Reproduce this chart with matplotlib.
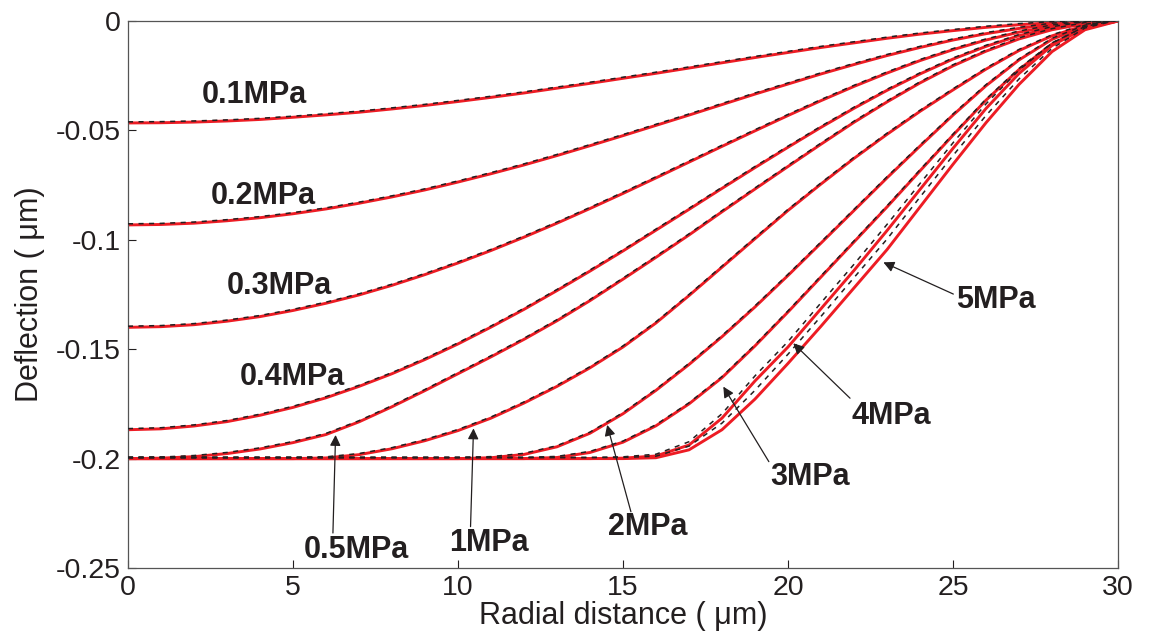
import matplotlib
matplotlib.use("Agg")
import matplotlib.pyplot as plt
import matplotlib.patheffects as pe
import numpy as np

plt.rcParams['font.family'] = ['Liberation Sans', 'DejaVu Sans']
plt.rcParams['axes.unicode_minus'] = False

# --- data: depth below zero (um) at radius r (um) ---
r = [0, 1, 2, 3, 4, 5, 6, 7, 8, 9, 10, 11, 12, 13, 14, 15,
     16, 17, 18, 19, 20, 21, 22, 23, 24, 25, 26, 27, 28, 29, 30]

d_01 = [.0466, .0465, .0462, .0457, .0450, .0440, .0429, .0417, .0402, .0386, .0368, .0349, .0329, .0307, .0285, .0262,
        .0239, .0215, .0191, .0167, .0144, .0121, .0100, .0079, .0060, .0044, .0029, .0017, .0008, .0002, 0]
d_02 = [.0932, .0930, .0924, .0913, .0899, .0881, .0859, .0833, .0804, .0772, .0736, .0698, .0658, .0615, .0570, .0524,
        .0477, .0430, .0382, .0334, .0288, .0242, .0199, .0158, .0121, .0087, .0058, .0034, .0015, .0004, 0]
d_03 = [.1400, .1397, .1388, .1372, .1351, .1323, .1290, .1252, .1208, .1159, .1106, .1049, .0988, .0924, .0857, .0788,
        .0717, .0645, .0573, .0502, .0432, .0364, .0299, .0238, .0181, .0131, .0087, .0051, .0023, .0006, 0]
d_04 = [.1868, .1864, .1851, .1831, .1802, .1766, .1722, .1670, .1612, .1547, .1476, .1399, .1318, .1232, .1143, .1051,
        .0956, .0861, .0765, .0670, .0577, .0486, .0399, .0317, .0242, .0174, .0116, .0067, .0031, .0008, 0]
d_05 = [.2000, .1998, .1991, .1977, .1956, .1927, .1890, .1832, .1763, .1689, .1612, .1535, .1455, .1370, .1278, .1180,
        .1080, .0978, .0872, .0768, .0665, .0563, .0463, .0370, .0283, .0205, .0138, .0082, .0040, .0012, 0]
d_1 = [.2000, .2000, .2000, .2000, .2000, .2000, .1997, .1982, .1955, .1918, .1872, .1815, .1746, .1670, .1585, .1490,
       .1380, .1255, .1125, .0995, .0866, .0745, .0628, .0518, .0413, .0315, .0220, .0135, .0068, .0020, 0]
d_2 = [.2000, .2000, .2000, .2000, .2000, .2000, .2000, .2000, .2000, .2000, .2000, .1996, .1981, .1946, .1884, .1795,
       .1688, .1570, .1443, .1307, .1163, .1015, .0866, .0717, .0572, .0430, .0296, .0178, .0084, .0024, 0]
d_3 = [.2000, .2000, .2000, .2000, .2000, .2000, .2000, .2000, .2000, .2000, .2000, .2000, .2000, .1995, .1972, .1925,
       .1850, .1750, .1630, .1485, .1330, .1170, .1010, .0850, .0685, .0522, .0362, .0222, .0105, .0030, 0]
d_4 = [.2000, .2000, .2000, .2000, .2000, .2000, .2000, .2000, .2000, .2000, .2000, .2000, .2000, .2000, .2000, .1998,
       .1988, .1938, .1815, .1645, .1490, .1315, .1140, .0958, .0770, .0582, .0400, .0240, .0112, .0032, 0]
d_5 = [.2000, .2000, .2000, .2000, .2000, .2000, .2000, .2000, .2000, .2000, .2000, .2000, .2000, .2000, .2000, .2000,
       .1996, .1960, .1868, .1728, .1565, .1395, .1220, .1045, .0850, .0655, .0465, .0290, .0140, .0040, 0]
# dashed (second model) where it visibly separates from the red curve
d_4_dash = [.2000, .2000, .2000, .2000, .2000, .2000, .2000, .2000, .2000, .2000, .2000, .2000, .2000, .2000, .2000, .1997,
            .1985, .1928, .1800, .1627, .1470, .1293, .1117, .0935, .0748, .0562, .0384, .0229, .0106, .0030, 0]
d_5_dash = [.2000, .2000, .2000, .2000, .2000, .2000, .2000, .2000, .2000, .2000, .2000, .2000, .2000, .2000, .2000, .2000,
            .1994, .1948, .1843, .1693, .1528, .1355, .1178, .1002, .0810, .0620, .0437, .0270, .0130, .0037, 0]

red_curves = [d_01, d_02, d_03, d_04, d_05, d_1, d_2, d_3, d_4, d_5]
dash_curves = [d_01, d_02, d_03, d_04, d_05, d_1, d_2, d_3, d_4_dash, d_5_dash]

labels = ['0.1MPa', '0.2MPa', '0.3MPa', '0.4MPa', '0.5MPa', '1MPa', '2MPa', '3MPa', '4MPa', '5MPa']
label_xy = [(3.82, -0.0338), (4.09, -0.0800), (4.58, -0.1211), (4.97, -0.1627),
            (6.91, -0.2418), (10.94, -0.2386), (15.76, -0.2313), (20.67, -0.2084),
            (23.12, -0.1805), (26.30, -0.1275)]
arrow_tip = {'0.5MPa': (6.29, -0.1892), '1MPa': (10.47, -0.1862), '2MPa': (14.52, -0.1846),
             '3MPa': (18.04, -0.1671), '4MPa': (20.16, -0.1473), '5MPa': (22.89, -0.1103)}
arrow_tail = {'0.5MPa': (6.21, -0.2340), '1MPa': (10.38, -0.2311), '2MPa': (15.24, -0.2243),
              '3MPa': (19.42, -0.2014), '4MPa': (21.88, -0.1724), '5MPa': (25.01, -0.1248)}

yticks = [0, -0.05, -0.1, -0.15, -0.2, -0.25]
ytick_labels = ['0', '-0.05', '-0.1', '-0.15', '-0.2', '-0.25']
xticks = [0, 5, 10, 15, 20, 25, 30]

# --- plot ---
fig = plt.figure(figsize=(11.49, 6.44), dpi=100)
ax = fig.add_axes([128 / 1149, 1 - 568 / 644, 990 / 1149, 547 / 644])

for d in red_curves:
    ax.plot(r, -np.asarray(d), color='#ED1C24', lw=2.1, solid_capstyle='round', zorder=2)
for d in dash_curves:
    # dashed model sits a hair above the red curve
    ax.plot(r, -np.asarray(d), color='#231F20', lw=1.1, ls=(0, (3.3, 3.6)), zorder=3,
            path_effects=[pe.Stroke(offset=(0, 0.8))])

for lab, (tx, ty) in zip(labels, label_xy):
    ax.text(tx, ty, lab, fontsize=22, fontweight='bold', color='#231F20',
            ha='center', va='center')
    if lab in arrow_tip:
        ax.annotate('', xy=arrow_tip[lab], xytext=arrow_tail[lab],
                    arrowprops=dict(arrowstyle='-|>', color='#231F20', lw=0.9,
                                    mutation_scale=16, shrinkA=0, shrinkB=0))

ax.set_xlim(0, 30)
ax.set_ylim(-0.25, 0)
ax.set_xticks(xticks)
ax.set_yticks(yticks)
ax.set_yticklabels(ytick_labels)
ax.tick_params(direction='in', length=6, width=0.8, labelsize=20.5, colors='#231F20',
               top=False, right=False, pad=5)
for s in ax.spines.values():
    s.set_linewidth(0.9)
    s.set_color('#555555')

ax.set_xlabel('Radial distance ( μm)', fontsize=22, color='#231F20', labelpad=0)
ax.set_ylabel('Deflection ( μm)', fontsize=22, color='#231F20', labelpad=8)

fig.savefig('out.png', dpi=100)
